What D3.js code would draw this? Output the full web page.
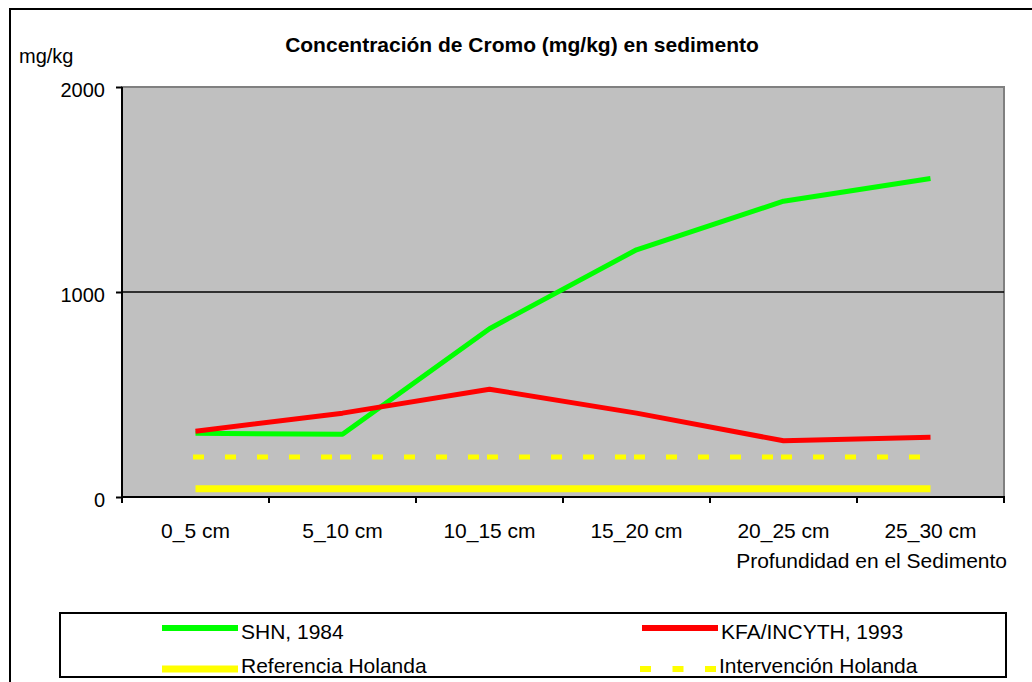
<!DOCTYPE html>
<html lang="es">
<head>
<meta charset="UTF-8">
<script src="https://cdn.jsdelivr.net/npm/d3@7"></script>
<style>
    body { margin: 0; background: #fff; }
    text { font-family: Arial, "Liberation Sans", sans-serif; fill: #000; }
</style>
</head>
<body>
<div id="chart"></div>
<script>
    // ---------- data ----------
    const categories = ["0_5 cm", "5_10 cm", "10_15 cm", "15_20 cm", "20_25 cm", "25_30 cm"];
    const shn1984 = [311, 306, 821, 1206, 1443, 1554];
    const kfa1993 = [321, 409, 526, 409, 274, 292];
    const referencia = [40, 40, 40, 40, 40, 40];
    const intervencion = [195, 195, 195, 195, 195, 195];
    const yTicks = [0, 1000, 2000];

    const series = [
        { name: "SHN, 1984", values: shn1984, color: "#00ff00", width: 5, dash: null },
        { name: "KFA/INCYTH, 1993", values: kfa1993, color: "#ff0000", width: 5, dash: null },
        { name: "Referencia Holanda", values: referencia, color: "#ffff00", width: 7, dash: null },
        { name: "Intervención Holanda", values: intervencion, color: "#ffff00", width: 5, dash: "6,26" }
    ];

    // ---------- layout ----------
    const W = 1032, H = 682;
    const plot = { left: 122, right: 1004, top: 87, bottom: 497 };

    const svg = d3.select("#chart").append("svg")
        .attr("width", W).attr("height", H);

    // outer chart border (runs off the right and bottom edge)
    svg.append("rect")
        .attr("x", 10).attr("y", 9)
        .attr("width", W + 20).attr("height", H + 20)
        .attr("fill", "none").attr("stroke", "#000").attr("stroke-width", 2);

    const x = d3.scaleBand().domain(categories).range([plot.left, plot.right]).padding(0);
    const y = d3.scaleLinear().domain([0, 2000]).range([plot.bottom, plot.top]);
    const cx = c => x(c) + x.bandwidth() / 2;

    // plot area
    svg.append("rect")
        .attr("x", plot.left).attr("y", plot.top)
        .attr("width", plot.right - plot.left).attr("height", plot.bottom - plot.top)
        .attr("fill", "#c0c0c0").attr("stroke", "#808080").attr("stroke-width", 2);

    // grid lines
    svg.selectAll(".grid").data(yTicks.filter(d => d > 0 && d < 2000)).enter()
        .append("line")
        .attr("x1", plot.left).attr("x2", plot.right)
        .attr("y1", d => y(d)).attr("y2", d => y(d))
        .attr("stroke", "#000").attr("stroke-width", 1.5);

    // y axis
    const yAxis = svg.append("g")
        .attr("transform", `translate(${plot.left},0)`)
        .call(d3.axisLeft(y).tickValues(yTicks).tickSize(6).tickPadding(11).tickFormat(d3.format("d")));
    yAxis.select(".domain").attr("stroke", "#000").attr("stroke-width", 2)
        .attr("d", `M0,${plot.top}V${plot.bottom + 6}`);
    yAxis.selectAll(".tick line").attr("stroke", "#000").attr("stroke-width", 2);
    yAxis.selectAll(".tick text")
        .attr("font-size", 20).attr("dy", "0.46em")
        .style("font-family", "Arial, 'Liberation Sans', sans-serif");

    // x axis line + ticks at category boundaries
    svg.append("line")
        .attr("x1", plot.left - 1).attr("x2", plot.right + 1)
        .attr("y1", plot.bottom).attr("y2", plot.bottom)
        .attr("stroke", "#000").attr("stroke-width", 2);
    const bounds = categories.map(c => x(c)).concat([plot.right]);
    svg.selectAll(".xtick").data(bounds).enter()
        .append("line")
        .attr("x1", d => d).attr("x2", d => d)
        .attr("y1", plot.bottom).attr("y2", plot.bottom + 6)
        .attr("stroke", "#000").attr("stroke-width", 2);
    svg.selectAll(".xlabel").data(categories).enter()
        .append("text")
        .attr("x", d => cx(d)).attr("y", plot.bottom + 41)
        .attr("text-anchor", "middle").attr("font-size", 21)
        .text(d => d);

    // series lines
    const line = d3.line().x(d => cx(d.cat)).y(d => y(d.v));
    series.forEach(s => {
        const pts = s.values.map((v, i) => ({ cat: categories[i], v }));
        if (s.dash) {
            // dashed lines restart their pattern at every point
            d3.pairs(pts).forEach(pair => {
                svg.append("path")
                    .attr("d", line(pair))
                    .attr("fill", "none").attr("stroke", s.color)
                    .attr("stroke-width", s.width)
                    .attr("stroke-linecap", "square")
                    .attr("stroke-dasharray", s.dash);
            });
        } else {
            svg.append("path")
                .attr("d", line(pts))
                .attr("fill", "none").attr("stroke", s.color)
                .attr("stroke-width", s.width)
                .attr("stroke-linejoin", "bevel");
        }
    });

    // titles
    svg.append("text")
        .attr("x", 522).attr("y", 52)
        .attr("text-anchor", "middle").attr("font-size", 21).attr("font-weight", "bold")
        .text("Concentración de Cromo (mg/kg) en sedimento");
    svg.append("text")
        .attr("x", 19).attr("y", 63).attr("font-size", 20)
        .text("mg/kg");
    svg.append("text")
        .attr("x", 1007).attr("y", 568)
        .attr("text-anchor", "end").attr("font-size", 21)
        .text("Profundidad en el Sedimento");

    // legend
    svg.append("rect")
        .attr("x", 60).attr("y", 613).attr("width", 946).attr("height", 64)
        .attr("fill", "#fff").attr("stroke", "#000").attr("stroke-width", 2);
    const legendPos = [
        { x: 162, y: 628, base: 639 }, { x: 642, y: 628, base: 639 },
        { x: 162, y: 669, base: 673 }, { x: 640, y: 669, base: 673 }
    ];
    series.forEach((s, i) => {
        const p = legendPos[i];
        svg.append("line")
            .attr("x1", p.x + (s.dash ? 3 : 0)).attr("x2", p.x + 76)
            .attr("y1", p.y).attr("y2", p.y)
            .attr("stroke", s.color)
            .attr("stroke-width", s.dash ? 6 : (s.width > 5 ? 7 : 6))
            .attr("stroke-linecap", s.dash ? "square" : "butt")
            .attr("stroke-dasharray", s.dash ? "5,27.5" : null);
        svg.append("text")
            .attr("x", p.x + 79).attr("y", p.base)
            .attr("font-size", 21)
            .text(s.name);
    });
</script>
</body>
</html>
